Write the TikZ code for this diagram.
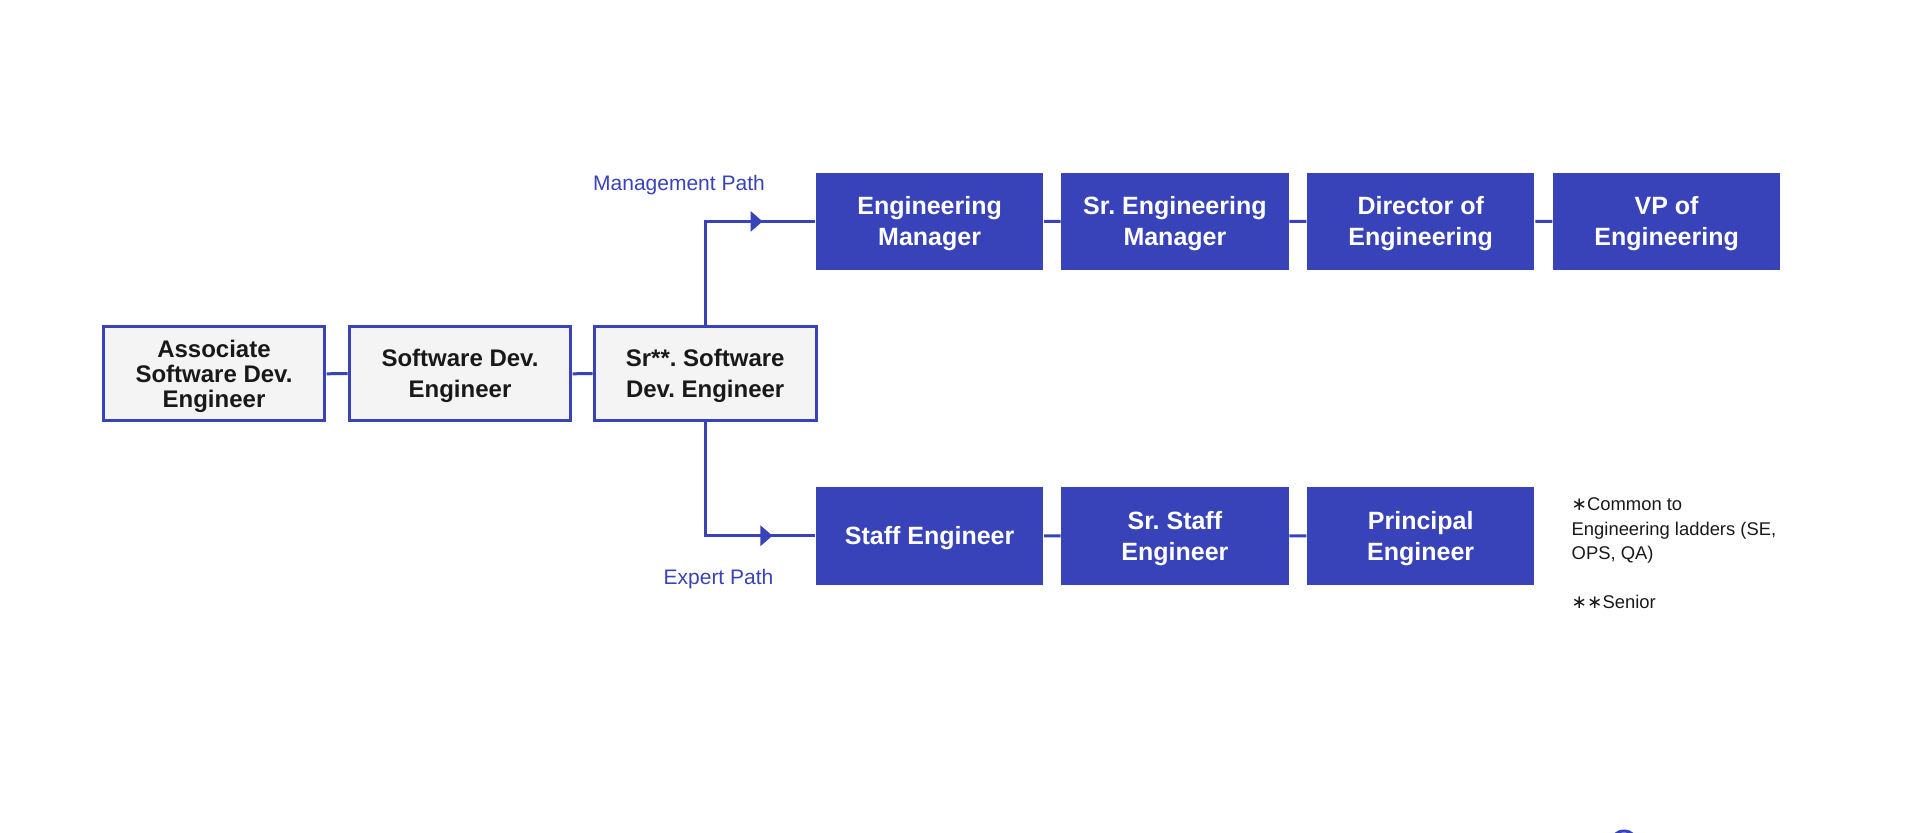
\documentclass[tikz,border=0pt]{standalone}
\usepackage{fontspec}
\setmainfont{Liberation Sans}
\newfontfamily\starfont{DejaVu Sans}
\usepackage{xcolor}
\usetikzlibrary{arrows.meta,decorations.markings}
\definecolor{ladderblue}{RGB}{56,66,185}
\definecolor{laddergrey}{RGB}{244,244,244}
\newcommand{\notestar}{{\starfont ∗}}
\frenchspacing

\begin{document}
\begin{tikzpicture}[scale=0.1,
    ladder/.style={draw=ladderblue,line width=0.3mm,fill=laddergrey,text=black!90,
        minimum width=22.2mm,minimum height=9.36mm,align=center,text depth=0pt,
        font=\fontsize{2.4mm}{3.1mm}\selectfont\bfseries},
    track/.style={fill=ladderblue,text=white,minimum width=22.75mm,minimum height=9.78mm,
        align=center,text depth=0pt,font=\fontsize{2.5mm}{3.1mm}\selectfont\bfseries},
    conn/.style={ladderblue,line width=0.3mm},
    midarrow/.style={postaction={decorate},decoration={markings,
        mark=at position #1 with {\arrow{Triangle[length=1.2mm,width=2mm]}}}},
    pathlabel/.style={text=ladderblue,font=\fontsize{2.1mm}{2.5mm}\selectfont},
    note/.style={align=left,text=black!90,font=\fontsize{1.84mm}{2.45mm}\selectfont} ]
    \tikzstyle{every node}+=[inner sep=0pt]
    \useasboundingbox (0,0) rectangle (191.8,-83.3);
    % common start of the ladder
    \draw (21.40,-37.37) node [ladder,font=\fontsize{2.4mm}{2.5mm}\selectfont\bfseries] (assoc) {Associate\\Software Dev.\\Engineer};
    \draw (46.00,-37.37) node [ladder] (sde) {Software Dev.\\Engineer};
    \draw (70.52,-37.37) node [ladder] (srsde) {Sr**. Software\\Dev. Engineer};
    \draw [conn] (assoc) -- (sde);
    \draw [conn] (sde) -- (srsde);
    % management path
    \draw (92.96,-22.14) node [track] (em) {Engineering\\Manager};
    \draw (117.49,-22.14) node [track] (srem) {Sr. Engineering\\Manager};
    \draw (142.07,-22.14) node [track] (dir) {Director of\\Engineering};
    \draw (166.66,-22.14) node [track] (vp) {VP of\\Engineering};
    \draw [conn] (em) -- (srem);
    \draw [conn] (srem) -- (dir);
    \draw [conn] (dir) -- (vp);
    \draw [conn,midarrow=0.754] (srsde.north) |- (em.west);
    \draw (67.9,-19.0) node [pathlabel,anchor=base] (mlabel) {Management Path};
    % expert path
    \draw (92.96,-53.57) node [track] (staff) {Staff Engineer};
    \draw (117.49,-53.57) node [track] (srstaff) {Sr. Staff\\Engineer};
    \draw (142.07,-53.57) node [track] (principal) {Principal\\Engineer};
    \draw [conn] (staff) -- (srstaff);
    \draw [conn] (srstaff) -- (principal);
    \draw [conn,midarrow=0.809] (srsde.south) |- (staff.west);
    \draw (71.85,-58.4) node [pathlabel,anchor=base] (elabel) {Expert Path};
    % footnotes
    \draw (157.1,-49.7) node [note,anchor=north west] (notes) {\notestar Common to\\Engineering ladders (SE,\\OPS, QA)\\[2.45mm]\notestar\notestar Senior};
    \draw [conn] (162.4,-84.5) circle (1.4);
\end{tikzpicture}
\end{document}
